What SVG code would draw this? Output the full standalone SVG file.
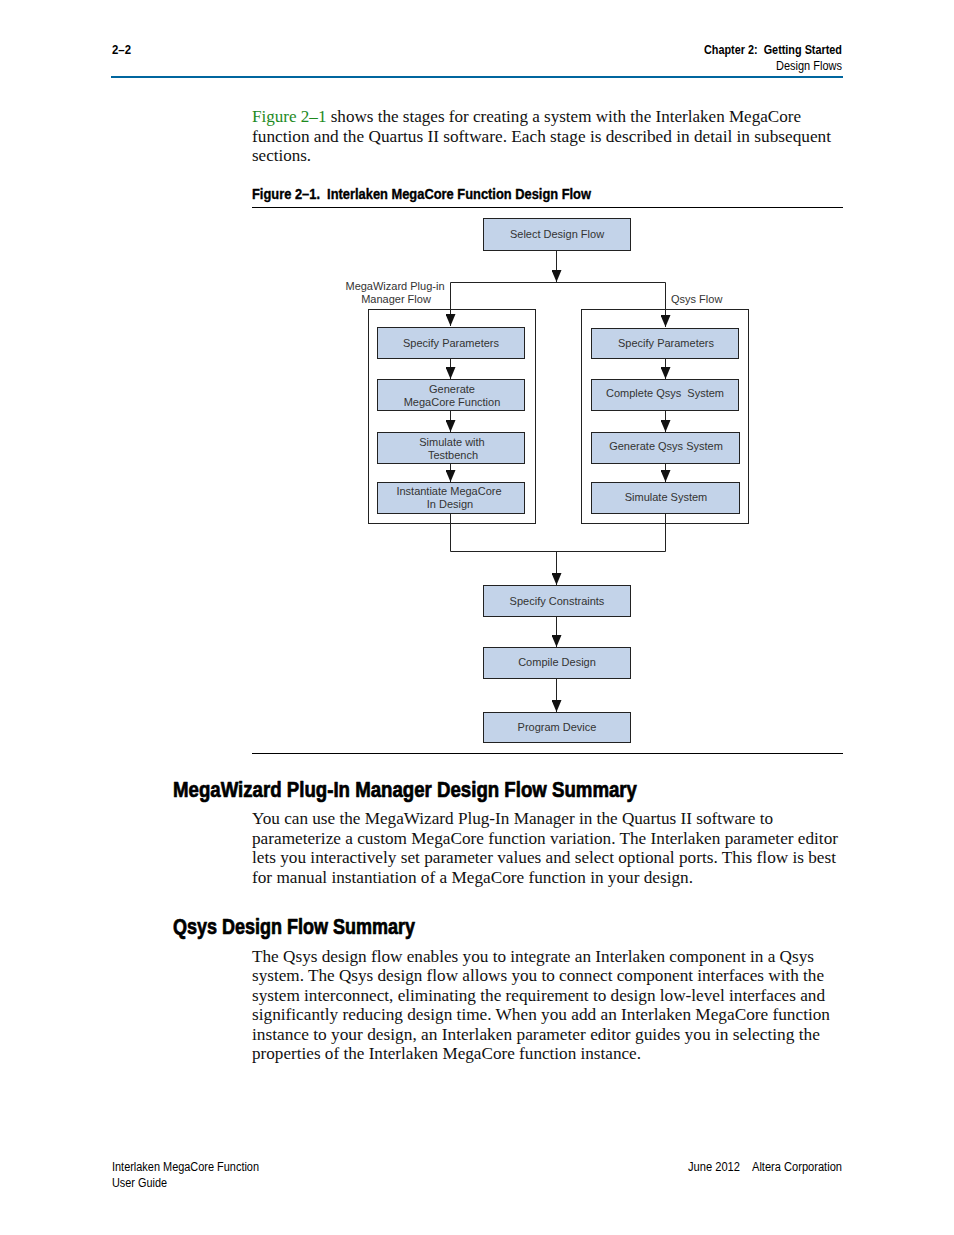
<svg xmlns="http://www.w3.org/2000/svg" width="954" height="1235" viewBox="0 0 954 1235">
<style>
.hd{font-family:"Liberation Sans Narrow","Liberation Sans",Arial,sans-serif;fill:#000}
.b{font-weight:bold}
.hv{stroke:#000;stroke-width:0.7;stroke-linejoin:round}
.hc{stroke:#000;stroke-width:0.35;stroke-linejoin:round}
.body{font-family:"Liberation Serif","Times New Roman",serif;font-size:16px;fill:#111}
.box{fill:#c3d3e9;stroke:#222;stroke-width:1}
.cont{fill:none;stroke:#222;stroke-width:1}
.bt{font-family:"Liberation Sans",Arial,sans-serif;font-size:11px;fill:#333;text-anchor:middle}
.lb{font-family:"Liberation Sans",Arial,sans-serif;font-size:11px;fill:#333}
.ln{fill:none;stroke:#222;stroke-width:1}
.rule{stroke:#000;stroke-width:1}
</style>
<defs>
<marker id="ad" markerUnits="userSpaceOnUse" markerWidth="10" markerHeight="12" viewBox="0 0 10 12" refX="5" refY="12" orient="0">
<path d="M0,0 L10,0 L5,12 Z" fill="#111"/>
</marker>
</defs>
<rect width="954" height="1235" fill="#fff"/>

<!-- header -->
<g id="header">
<text class="hd b" x="112" y="54" font-size="12" textLength="19" lengthAdjust="spacingAndGlyphs">2–2</text>
<text class="hd b" x="704" y="54" font-size="12" textLength="138" lengthAdjust="spacingAndGlyphs" xml:space="preserve">Chapter 2:  Getting Started</text>
<text class="hd" x="776" y="70" font-size="12" textLength="66" lengthAdjust="spacingAndGlyphs">Design Flows</text>
<rect x="111" y="76" width="732" height="2" fill="#00669e"/>
</g>

<!-- intro paragraph -->
<g id="intro">
<text class="body" x="252" y="122" textLength="549" lengthAdjust="spacingAndGlyphs"><tspan fill="#1e8a1e">Figure 2–1</tspan> shows the stages for creating a system with the Interlaken MegaCore</text>
<text class="body" x="252" y="142" textLength="579" lengthAdjust="spacingAndGlyphs">function and the Quartus II software. Each stage is described in detail in subsequent</text>
<text class="body" x="252" y="161" textLength="59" lengthAdjust="spacingAndGlyphs">sections.</text>
</g>

<g id="caption">
<text class="hd b hc" x="252" y="199" font-size="14" textLength="339" lengthAdjust="spacingAndGlyphs" xml:space="preserve">Figure 2–1.  Interlaken MegaCore Function Design Flow</text>
<line class="rule" x1="252" y1="207.5" x2="843" y2="207.5"/>
</g>

<!-- connectors -->
<g id="connectors">
<line class="ln" x1="556.5" y1="250" x2="556.5" y2="282" marker-end="url(#ad)"/>
<polyline class="ln" points="450.5,326 450.5,282.5 665.5,282.5 665.5,327"/>
<line class="ln" x1="450.5" y1="300" x2="450.5" y2="326" marker-end="url(#ad)"/>
<line class="ln" x1="665.5" y1="300" x2="665.5" y2="327" marker-end="url(#ad)"/>
<line class="ln" x1="450.5" y1="358" x2="450.5" y2="379" marker-end="url(#ad)"/>
<line class="ln" x1="450.5" y1="411" x2="450.5" y2="432" marker-end="url(#ad)"/>
<line class="ln" x1="450.5" y1="464" x2="450.5" y2="482" marker-end="url(#ad)"/>
<line class="ln" x1="665.5" y1="358" x2="665.5" y2="379" marker-end="url(#ad)"/>
<line class="ln" x1="665.5" y1="410" x2="665.5" y2="432" marker-end="url(#ad)"/>
<line class="ln" x1="665.5" y1="464" x2="665.5" y2="482" marker-end="url(#ad)"/>
<polyline class="ln" points="450.5,514 450.5,551.5 665.5,551.5 665.5,514"/>
<line class="ln" x1="556.5" y1="551" x2="556.5" y2="585" marker-end="url(#ad)"/>
<line class="ln" x1="556.5" y1="617" x2="556.5" y2="647" marker-end="url(#ad)"/>
<line class="ln" x1="556.5" y1="679" x2="556.5" y2="712" marker-end="url(#ad)"/>
</g>

<!-- containers -->
<g id="megawizard-flow">
<rect class="cont" x="368.5" y="309.5" width="167" height="214"/>
<text class="lb" x="395" y="290" text-anchor="middle">MegaWizard Plug-in</text>
<text class="lb" x="396" y="303" text-anchor="middle">Manager Flow</text>
</g>
<g id="qsys-flow">
<rect class="cont" x="581.5" y="309.5" width="167" height="214"/>
<text class="lb" x="671" y="303">Qsys Flow</text>
</g>

<g id="select-design-flow">
<rect class="box" x="483.5" y="218.5" width="147" height="32"/>
<text class="bt" x="557" y="238">Select Design Flow</text>
</g>

<g id="mw-specify-parameters">
<rect class="box" x="377.5" y="327.5" width="147" height="31"/>
<text class="bt" x="451" y="347">Specify Parameters</text>
</g>
<g id="mw-generate">
<rect class="box" x="377.5" y="379.5" width="147" height="31"/>
<text class="bt" x="452" y="393">Generate</text>
<text class="bt" x="452" y="406">MegaCore Function</text>
</g>
<g id="mw-simulate">
<rect class="box" x="377.5" y="432.5" width="147" height="31"/>
<text class="bt" x="452" y="446">Simulate with</text>
<text class="bt" x="453" y="459">Testbench</text>
</g>
<g id="mw-instantiate">
<rect class="box" x="377.5" y="482.5" width="147" height="31"/>
<text class="bt" x="449" y="495">Instantiate MegaCore</text>
<text class="bt" x="450" y="508">In Design</text>
</g>

<g id="qs-specify-parameters">
<rect class="box" x="591.5" y="328.5" width="147" height="30"/>
<text class="bt" x="666" y="347">Specify Parameters</text>
</g>
<g id="qs-complete">
<rect class="box" x="591.5" y="379.5" width="147" height="31"/>
<text class="bt" x="665" y="397" xml:space="preserve">Complete Qsys  System</text>
</g>
<g id="qs-generate">
<rect class="box" x="591.5" y="432.5" width="148" height="31"/>
<text class="bt" x="666" y="450">Generate Qsys System</text>
</g>
<g id="qs-simulate">
<rect class="box" x="591.5" y="482.5" width="148" height="31"/>
<text class="bt" x="666" y="501">Simulate System</text>
</g>

<g id="specify-constraints">
<rect class="box" x="483.5" y="585.5" width="147" height="31"/>
<text class="bt" x="557" y="605">Specify Constraints</text>
</g>
<g id="compile-design">
<rect class="box" x="483.5" y="647.5" width="147" height="31"/>
<text class="bt" x="557" y="666">Compile Design</text>
</g>
<g id="program-device">
<rect class="box" x="483.5" y="712.5" width="147" height="30"/>
<text class="bt" x="557" y="731">Program Device</text>
</g>

<line class="rule" x1="252" y1="753.5" x2="843" y2="753.5"/>

<!-- section 1 -->
<g id="section-megawizard">
<text class="hd b hv" x="173" y="797" font-size="22" textLength="464" lengthAdjust="spacingAndGlyphs">MegaWizard Plug-In Manager Design Flow Summary</text>
<text class="body" x="252" y="824" textLength="521" lengthAdjust="spacingAndGlyphs">You can use the MegaWizard Plug-In Manager in the Quartus II software to</text>
<text class="body" x="252" y="844" textLength="586" lengthAdjust="spacingAndGlyphs">parameterize a custom MegaCore function variation. The Interlaken parameter editor</text>
<text class="body" x="252" y="863" textLength="584" lengthAdjust="spacingAndGlyphs">lets you interactively set parameter values and select optional ports. This flow is best</text>
<text class="body" x="252" y="883" textLength="441" lengthAdjust="spacingAndGlyphs">for manual instantiation of a MegaCore function in your design.</text>
</g>

<!-- section 2 -->
<g id="section-qsys">
<text class="hd b hv" x="173" y="934" font-size="22" textLength="242" lengthAdjust="spacingAndGlyphs">Qsys Design Flow Summary</text>
<text class="body" x="252" y="962" textLength="562" lengthAdjust="spacingAndGlyphs">The Qsys design flow enables you to integrate an Interlaken component in a Qsys</text>
<text class="body" x="252" y="981" textLength="572" lengthAdjust="spacingAndGlyphs">system. The Qsys design flow allows you to connect component interfaces with the</text>
<text class="body" x="252" y="1001" textLength="573" lengthAdjust="spacingAndGlyphs">system interconnect, eliminating the requirement to design low-level interfaces and</text>
<text class="body" x="252" y="1020" textLength="578" lengthAdjust="spacingAndGlyphs">significantly reducing design time. When you add an Interlaken MegaCore function</text>
<text class="body" x="252" y="1040" textLength="568" lengthAdjust="spacingAndGlyphs">instance to your design, an Interlaken parameter editor guides you in selecting the</text>
<text class="body" x="252" y="1059" textLength="389" lengthAdjust="spacingAndGlyphs">properties of the Interlaken MegaCore function instance.</text>
</g>

<!-- footer -->
<g id="footer">
<text class="hd" x="112" y="1171" font-size="12" textLength="147" lengthAdjust="spacingAndGlyphs">Interlaken MegaCore Function</text>
<text class="hd" x="112" y="1187" font-size="12" textLength="55" lengthAdjust="spacingAndGlyphs">User Guide</text>
<text class="hd" x="688" y="1171" font-size="12" textLength="52" lengthAdjust="spacingAndGlyphs">June 2012</text>
<text class="hd" x="752" y="1171" font-size="12" textLength="90" lengthAdjust="spacingAndGlyphs">Altera Corporation</text>
</g>
</svg>
